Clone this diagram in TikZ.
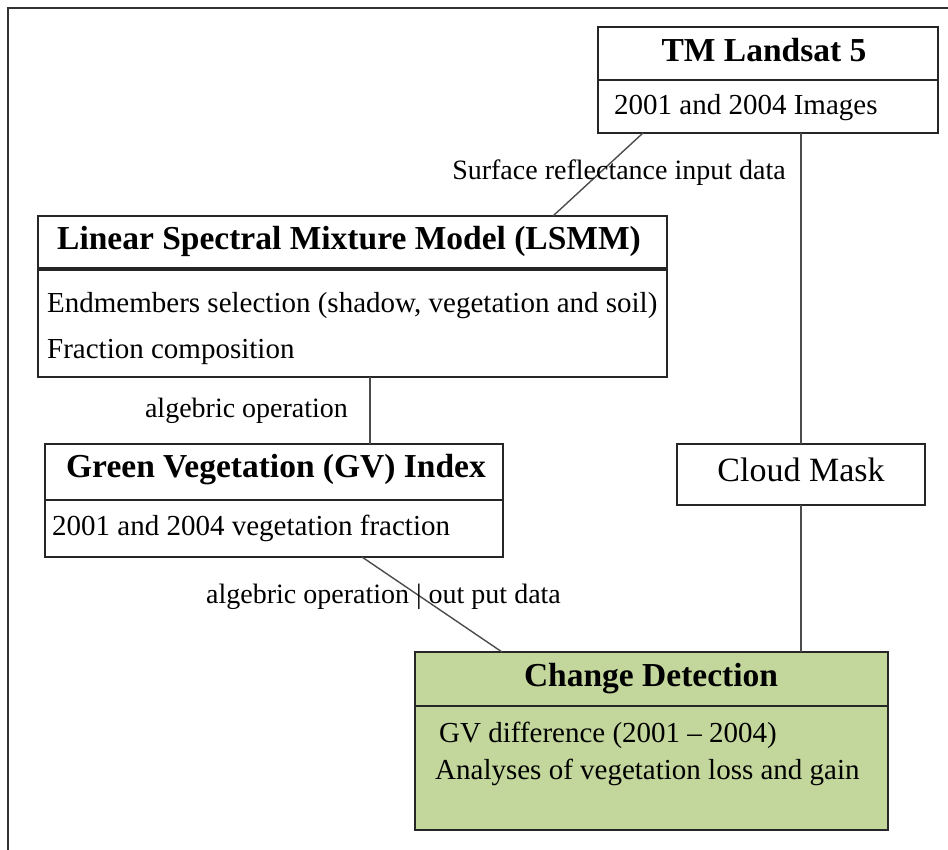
\documentclass[tikz,border=0pt]{standalone}
\usepackage{fontspec}
\setmainfont{Liberation Serif}
\definecolor{cdgreen}{RGB}{195,214,155}
\begin{document}
\begin{tikzpicture}[x=1pt,y=-1pt,
  box/.style={draw=black!85, line width=1.8pt, inner sep=0pt, outer sep=0pt},
  divider/.style={draw=black!85, line width=1.8pt},
  link/.style={draw=black!70, line width=1.4pt},
  title/.style={font=\fontsize{33.5}{36}\selectfont\bfseries, anchor=base, inner sep=0pt},
  body/.style={font=\fontsize{29}{32}\selectfont, anchor=base west, inner sep=0pt},
  lbl/.style={font=\fontsize{28}{30}\selectfont, anchor=base, inner sep=0pt}]
\useasboundingbox (0,0) rectangle (948,850);
% outer frame
\draw[black!80, line width=1.5pt] (8,850) -- (8,8) -- (948,8);
% boxes
\node[box, minimum width=340pt, minimum height=106pt] (landsat) at (768,80) {};
\node[box, minimum width=629pt, minimum height=161pt] (lsmm) at (352.5,296.5) {};
\node[box, minimum width=458pt, minimum height=113pt] (gv) at (274,500.5) {};
\node[box, minimum width=248pt, minimum height=61pt] (cloud) at (801,474.5) {};
\node[box, fill=cdgreen, minimum width=473pt, minimum height=178pt] (change) at (651.5,741) {};
% dividers
\draw[divider] (landsat.west |- 0,80) -- (landsat.east |- 0,80);
\draw[divider, line width=3.2pt] (lsmm.west |- 0,269) -- (lsmm.east |- 0,269);
\draw[divider] (gv.west |- 0,500) -- (gv.east |- 0,500);
\draw[divider] (change.west |- 0,706) -- (change.east |- 0,706);
% texts
\node[title] (landsatT) at (764,62) {TM Landsat 5};
\node[body] (landsatB) at (614,115) {2001 and 2004 Images};
\node[title] (lsmmT) at (349,250) {Linear Spectral Mixture Model (LSMM)};
\node[body] (lsmmB1) at (47,313) {Endmembers selection (shadow, vegetation and soil)};
\node[body] (lsmmB2) at (47,359) {Fraction composition};
\node[title] (gvT) at (276,477) {Green Vegetation (GV) Index};
\node[body] (gvB) at (52,535) {2001 and 2004 vegetation fraction};
\node[font=\fontsize{34}{36}\selectfont, anchor=base, inner sep=0pt] (cloudT) at (801,481) {Cloud Mask};
\node[title] (changeT) at (651,686) {Change Detection};
\node[body] (changeB1) at (439,742) {GV difference (2001 – 2004)};
\node[body] (changeB2) at (435,779) {Analyses of vegetation loss and gain};
% connectors
\draw[link] (landsat.south -| 643,0) -- (lsmm.north -| 553,0);
\draw[link] (landsat.south -| cloud.north) -- (cloud.north);
\draw[link] (cloud.south) -- (change.north -| cloud.south);
\draw[link] (lsmm.south -| 370,0) -- (gv.north -| 370,0);
\draw[link] (gv.south -| 362,0) -- (change.north -| 502,0);
% connector labels
\node[lbl] (lblsurf) at (619,180) {Surface reflectance input data};
\node[lbl] (lblalg1) at (246.5,417) {algebric operation};
\node[lbl] (lblalg2) at (383.5,603) {algebric operation | out put data};
\end{tikzpicture}
\end{document}
